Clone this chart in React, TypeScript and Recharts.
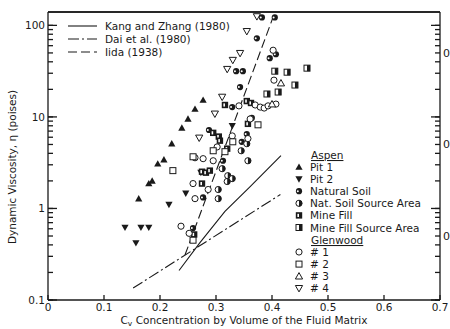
import React from "react";
import { ScatterChart, Scatter, XAxis, YAxis, Legend, CartesianGrid } from "recharts";

const INK = "#1a1a1a";
const FONT = "'DejaVu Sans', sans-serif";

// axis ticks
const xTicks = [0, 0.1, 0.2, 0.3, 0.4, 0.5, 0.6, 0.7];
const yMajor = [0.1, 1, 10, 100];
const yMinor = [
  0.2, 0.3, 0.4, 0.5, 0.6, 0.7, 0.8, 0.9,
  2, 3, 4, 5, 6, 7, 8, 9,
  20, 30, 40, 50, 60, 70, 80, 90,
];
const yTicks = [...yMajor, ...yMinor];
const rightMarks = [0.5, 5, 50];
const yDomain = [0.1, 140];

// Aspen samples
const pit1 = [
  { x: 0.162, y: 1.28 }, { x: 0.18, y: 1.87 }, { x: 0.186, y: 2.0 },
  { x: 0.196, y: 3.08 }, { x: 0.207, y: 3.41 }, { x: 0.221, y: 5.1 },
  { x: 0.239, y: 7.6 }, { x: 0.25, y: 9.5 }, { x: 0.2625, y: 12.2 },
  { x: 0.277, y: 15.3 },
];
const pit2 = [
  { x: 0.1375, y: 0.62 }, { x: 0.166, y: 0.62 }, { x: 0.18, y: 0.62 },
  { x: 0.157, y: 0.42 }, { x: 0.216, y: 1.1 }, { x: 0.246, y: 1.46 },
  { x: 0.273, y: 2.46 }, { x: 0.329, y: 8.0 },
];
const naturalSoil = [
  { x: 0.336, y: 31.6 }, { x: 0.348, y: 31.6 }, { x: 0.343, y: 21.2 },
  { x: 0.373, y: 72.2 }, { x: 0.382, y: 122 }, { x: 0.405, y: 122 },
  { x: 0.396, y: 43.8 }, { x: 0.407, y: 48.4 }, { x: 0.329, y: 12.8 },
  { x: 0.2875, y: 7.2 }, { x: 0.346, y: 5.35 }, { x: 0.355, y: 6.5 },
  { x: 0.3125, y: 3.32 }, { x: 0.277, y: 1.32 }, { x: 0.259, y: 0.61 },
  { x: 0.364, y: 9.75 },
];
const natSoilSource = [
  { x: 0.304, y: 1.61 }, { x: 0.304, y: 1.28 }, { x: 0.345, y: 4.27 },
  { x: 0.357, y: 3.32 }, { x: 0.321, y: 2.28 }, { x: 0.329, y: 2.12 },
  { x: 0.32, y: 1.97 }, { x: 0.311, y: 2.72 }, { x: 0.355, y: 5.1 },
];
const mineFill = [
  { x: 0.316, y: 13.5 }, { x: 0.355, y: 14.9 }, { x: 0.3625, y: 14.2 },
  { x: 0.295, y: 6.7 }, { x: 0.305, y: 6.1 }, { x: 0.307, y: 5.5 },
  { x: 0.275, y: 2.52 }, { x: 0.282, y: 2.46 }, { x: 0.289, y: 2.59 },
  { x: 0.275, y: 1.87 }, { x: 0.261, y: 0.52 }, { x: 0.357, y: 8.4 },
  { x: 0.32, y: 4.5 },
];
const mineFillSource = [
  { x: 0.405, y: 31.6 }, { x: 0.427, y: 30.8 }, { x: 0.4625, y: 34.1 },
  { x: 0.441, y: 22.3 }, { x: 0.411, y: 18.7 }, { x: 0.391, y: 17.8 },
];

// Glenwood samples
const glenwood1 = [
  { x: 0.2375, y: 0.64 }, { x: 0.252, y: 0.535 }, { x: 0.259, y: 1.87 },
  { x: 0.2625, y: 1.28 }, { x: 0.286, y: 1.61 }, { x: 0.2625, y: 3.58 },
  { x: 0.277, y: 3.5 }, { x: 0.295, y: 3.32 }, { x: 0.302, y: 4.7 },
  { x: 0.329, y: 6.2 }, { x: 0.341, y: 13.2 }, { x: 0.357, y: 5.8 },
  { x: 0.37, y: 13.5 }, { x: 0.379, y: 12.8 }, { x: 0.386, y: 12.5 },
  { x: 0.393, y: 13.2 }, { x: 0.407, y: 13.8 }, { x: 0.4035, y: 25.2 },
  { x: 0.402, y: 53.5 }, { x: 0.361, y: 9.5 },
];
const glenwood2 = [
  { x: 0.223, y: 2.59 }, { x: 0.259, y: 3.67 }, { x: 0.259, y: 0.45 },
  { x: 0.295, y: 4.27 }, { x: 0.316, y: 4.17 }, { x: 0.33, y: 5.35 },
  { x: 0.375, y: 8.2 },
];
const glenwood3 = [{ x: 0.416, y: 23.4 }, { x: 0.4, y: 13.8 }];
const glenwood4 = [
  { x: 0.373, y: 125 }, { x: 0.355, y: 86.1 }, { x: 0.343, y: 49.6 },
  { x: 0.33, y: 41.7 }, { x: 0.32, y: 33.2 }, { x: 0.311, y: 16.5 },
  { x: 0.298, y: 10.8 }, { x: 0.27, y: 5.9 },
];

// published relations
const kangZhang = [
  { x: 0.234, y: 0.21 }, { x: 0.271, y: 0.42 }, { x: 0.316, y: 0.93 },
  { x: 0.361, y: 1.73 }, { x: 0.416, y: 3.77 },
];
const daiEtAl = [{ x: 0.152, y: 0.135 }, { x: 0.415, y: 1.42 }];
const iida = [{ x: 0.2446, y: 0.31 }, { x: 0.403, y: 128 }];

const curves = [
  { name: "Kang and Zhang (1980)", data: kangZhang, dash: "" },
  { name: "Dai et al. (1980)", data: daiEtAl, dash: "11 3 2 3" },
  { name: "Iida (1938)", data: iida, dash: "9 4" },
];

const aspen = [
  { name: "Pit 1", data: pit1, kind: "triUpFilled" },
  { name: "Pit 2", data: pit2, kind: "triDownFilled" },
  { name: "Natural Soil", data: naturalSoil, kind: "circleDark" },
  { name: "Nat. Soil Source Area", data: natSoilSource, kind: "circleHalf" },
  { name: "Mine Fill", data: mineFill, kind: "squareDark" },
  { name: "Mine Fill Source Area", data: mineFillSource, kind: "squareHalf" },
];
const glenwood = [
  { name: "# 1", data: glenwood1, kind: "circleOpen" },
  { name: "# 2", data: glenwood2, kind: "squareOpen" },
  { name: "# 3", data: glenwood3, kind: "triUpOpen" },
  { name: "# 4", data: glenwood4, kind: "triDownOpen" },
];

function marker(kind: string, cx: number, cy: number) {
  const r = 3.1;
  const up = `${cx},${cy - 3.6} ${cx - 3.6},${cy + 2.8} ${cx + 3.6},${cy + 2.8}`;
  const down = `${cx},${cy + 3.6} ${cx - 3.6},${cy - 2.8} ${cx + 3.6},${cy - 2.8}`;
  switch (kind) {
    case "triUpFilled":
      return <polygon points={up} fill={INK} />;
    case "triDownFilled":
      return <polygon points={down} fill={INK} />;
    case "triUpOpen":
      return <polygon points={up} fill="#fff" stroke={INK} strokeWidth={1} />;
    case "triDownOpen":
      return <polygon points={down} fill="#fff" stroke={INK} strokeWidth={1} />;
    case "circleOpen":
      return <circle cx={cx} cy={cy} r={r} fill="#fff" stroke={INK} strokeWidth={1} />;
    case "circleDark":
      return (
        <g>
          <circle cx={cx} cy={cy} r={r} fill={INK} />
          <circle cx={cx - 1.2} cy={cy} r={1} fill="#fff" />
        </g>
      );
    case "circleHalf":
      return (
        <g>
          <circle cx={cx} cy={cy} r={r} fill="#fff" stroke={INK} strokeWidth={1} />
          <path d={`M${cx},${cy - r} A${r},${r} 0 0 1 ${cx},${cy + r} Z`} fill={INK} />
        </g>
      );
    case "squareOpen":
      return <rect x={cx - 3} y={cy - 3} width={6} height={6} fill="#fff" stroke={INK} strokeWidth={1} />;
    case "squareDark":
      return (
        <g>
          <rect x={cx - 3.2} y={cy - 3.2} width={6.4} height={6.4} fill={INK} />
          <rect x={cx - 1.6} y={cy - 1.6} width={1.6} height={3.2} fill="#fff" />
        </g>
      );
    case "squareHalf":
    default:
      return (
        <g>
          <rect x={cx - 3} y={cy - 3} width={6} height={6} fill="#fff" stroke={INK} strokeWidth={1} />
          <rect x={cx} y={cy - 3} width={3} height={6} fill={INK} />
        </g>
      );
  }
}

const fmtY = (v: number) => (v < 1 ? v.toFixed(1) : String(v));

// Recharts draws the short inward tick (negative tickSize); majors get a longer stroke here.
// tickMargin cancels the tick size, so x/y of these components sit on the axis line.
const LeftTick = (props: any) => {
  const { x, y, payload } = props;
  const major = yMajor.includes(payload.value);
  return (
    <g>
      {major && <path d={`M${x},${y}h9`} stroke={INK} strokeWidth={1.3} fill="none" />}
      {major && (
        <text x={x - 3} y={y + 4} textAnchor="end" fontFamily={FONT} fontSize={10.5} fill={INK}>
          {fmtY(payload.value)}
        </text>
      )}
    </g>
  );
};

const RightTick = (props: any) => {
  const { x, y, payload } = props;
  const major = yMajor.includes(payload.value);
  const labelled = rightMarks.includes(payload.value);
  return (
    <g>
      {major && <path d={`M${x},${y}h-9`} stroke={INK} strokeWidth={1.3} fill="none" />}
      {labelled && (
        <text x={x + 3} y={y + 4} fontFamily={FONT} fontSize={11} fill={INK}>
          0
        </text>
      )}
    </g>
  );
};

const BottomTick = (props: any) => {
  const { x, y, payload } = props;
  return (
    <text x={x} y={y + 11} textAnchor="middle" fontFamily={FONT} fontSize={10.5} fill={INK}>
      {String(payload.value)}
    </text>
  );
};

const XTitle = (props: any) => {
  const { viewBox } = props;
  const cx = viewBox.x + viewBox.width / 2;
  return (
    <text x={cx} y={viewBox.y + 24} textAnchor="middle" fontFamily={FONT} fontSize={10.5} fill={INK}>
      C<tspan fontSize={7.5} dy={2}>v</tspan>
      <tspan dy={-2}> Concentration by Volume of the Fluid Matrix</tspan>
    </text>
  );
};

const YTitle = (props: any) => {
  const { viewBox } = props;
  const cx = viewBox.x + 12;
  const cy = viewBox.y + viewBox.height / 2 + 11;
  return (
    <text
      x={cx}
      y={cy}
      transform={`rotate(-90 ${cx} ${cy})`}
      textAnchor="middle"
      dominantBaseline="central"
      fontFamily={FONT}
      fontSize={10.5}
      fill={INK}
    >
      Dynamic Viscosity, η (poises)
    </text>
  );
};

const renderLegend = () => {
  const rowH = 12.1;
  return (
    <svg width={450} height={329} style={{ position: "absolute", left: 0, top: 0 }}>
      {curves.map((c, i) => (
        <g key={c.name}>
          <line x1={68} x2={97} y1={26 + i * 13} y2={26 + i * 13} stroke={INK} strokeWidth={1.1} strokeDasharray={c.dash || undefined} />
          <text x={105} y={30 + i * 13} fontFamily={FONT} fontSize={10.5} fill={INK}>
            {c.name}
          </text>
        </g>
      ))}
      <text x={311} y={159} fontFamily={FONT} fontSize={10.5} fill={INK} textDecoration="underline">
        Aspen
      </text>
      {aspen.map((s, i) => (
        <g key={s.name}>
          {marker(s.kind, 299, 167 + i * rowH)}
          <text x={310} y={171 + i * rowH} fontFamily={FONT} fontSize={10.5} fill={INK}>
            {s.name}
          </text>
        </g>
      ))}
      <text x={311} y={244} fontFamily={FONT} fontSize={10.5} fill={INK} textDecoration="underline">
        Glenwood
      </text>
      {glenwood.map((s, i) => (
        <g key={s.name}>
          {marker(s.kind, 299, 252 + i * rowH)}
          <text x={310} y={256 + i * rowH} fontFamily={FONT} fontSize={10.5} fill={INK}>
            {s.name}
          </text>
        </g>
      ))}
    </svg>
  );
};

const tickStroke = { stroke: INK, strokeWidth: 1.3 };

export default function App() {
  return (
    <div style={{ position: "absolute", left: 0, top: 0, background: "#fff" }}>
      <ScatterChart width={450} height={329} margin={{ top: 0, right: 0, bottom: 0, left: 0 }}>
        {/* top edge of the frame */}
        <CartesianGrid
          xAxisId="bottom"
          yAxisId="left"
          vertical={false}
          horizontalCoordinatesGenerator={({ offset }: any) => [offset.top]}
          stroke={INK}
          strokeWidth={1.3}
          strokeDasharray="0"
        />
        <XAxis
          xAxisId="bottom"
          type="number"
          dataKey="x"
          domain={[0, 0.7]}
          ticks={xTicks}
          interval={0}
          height={29}
          tickSize={-5}
          tickMargin={5}
          tickLine={tickStroke}
          axisLine={tickStroke}
          tick={<BottomTick />}
          label={<XTitle />}
        />
        <XAxis
          xAxisId="top"
          orientation="top"
          type="number"
          domain={[0, 0.7]}
          allowDataOverflow
          ticks={xTicks}
          interval={0}
          height={12}
          tickSize={-5}
          tickMargin={5}
          tickLine={tickStroke}
          axisLine={tickStroke}
          tick={false}
        />
        <YAxis
          yAxisId="left"
          type="number"
          dataKey="y"
          scale="log"
          domain={yDomain}
          allowDataOverflow
          ticks={yTicks}
          interval={0}
          width={48}
          tickSize={-5}
          tickMargin={5}
          tickLine={tickStroke}
          axisLine={tickStroke}
          tick={<LeftTick />}
          label={<YTitle />}
        />
        <YAxis
          yAxisId="right"
          orientation="right"
          type="number"
          scale="log"
          domain={yDomain}
          allowDataOverflow
          ticks={yTicks}
          interval={0}
          width={10}
          tickSize={-5}
          tickMargin={5}
          tickLine={tickStroke}
          axisLine={tickStroke}
          tick={<RightTick />}
        />
        {curves.map((c) => (
          <Scatter
            key={c.name}
            name={c.name}
            data={c.data}
            xAxisId="bottom"
            yAxisId="left"
            line={{ stroke: INK, strokeWidth: 1.1, strokeDasharray: c.dash || undefined }}
            shape={() => <g />}
            isAnimationActive={false}
          />
        ))}
        {[...aspen, ...glenwood].map((s) => (
          <Scatter
            key={s.name}
            name={s.name}
            data={s.data}
            xAxisId="bottom"
            yAxisId="left"
            shape={(p: any) => marker(s.kind, p.cx, p.cy)}
            isAnimationActive={false}
          />
        ))}
        <Legend
          content={renderLegend}
          layout="horizontal"
          verticalAlign="middle"
          align="center"
          wrapperStyle={{ position: "absolute", left: 0, top: 0, width: 450, height: 329, pointerEvents: "none" }}
        />
      </ScatterChart>
    </div>
  );
}
